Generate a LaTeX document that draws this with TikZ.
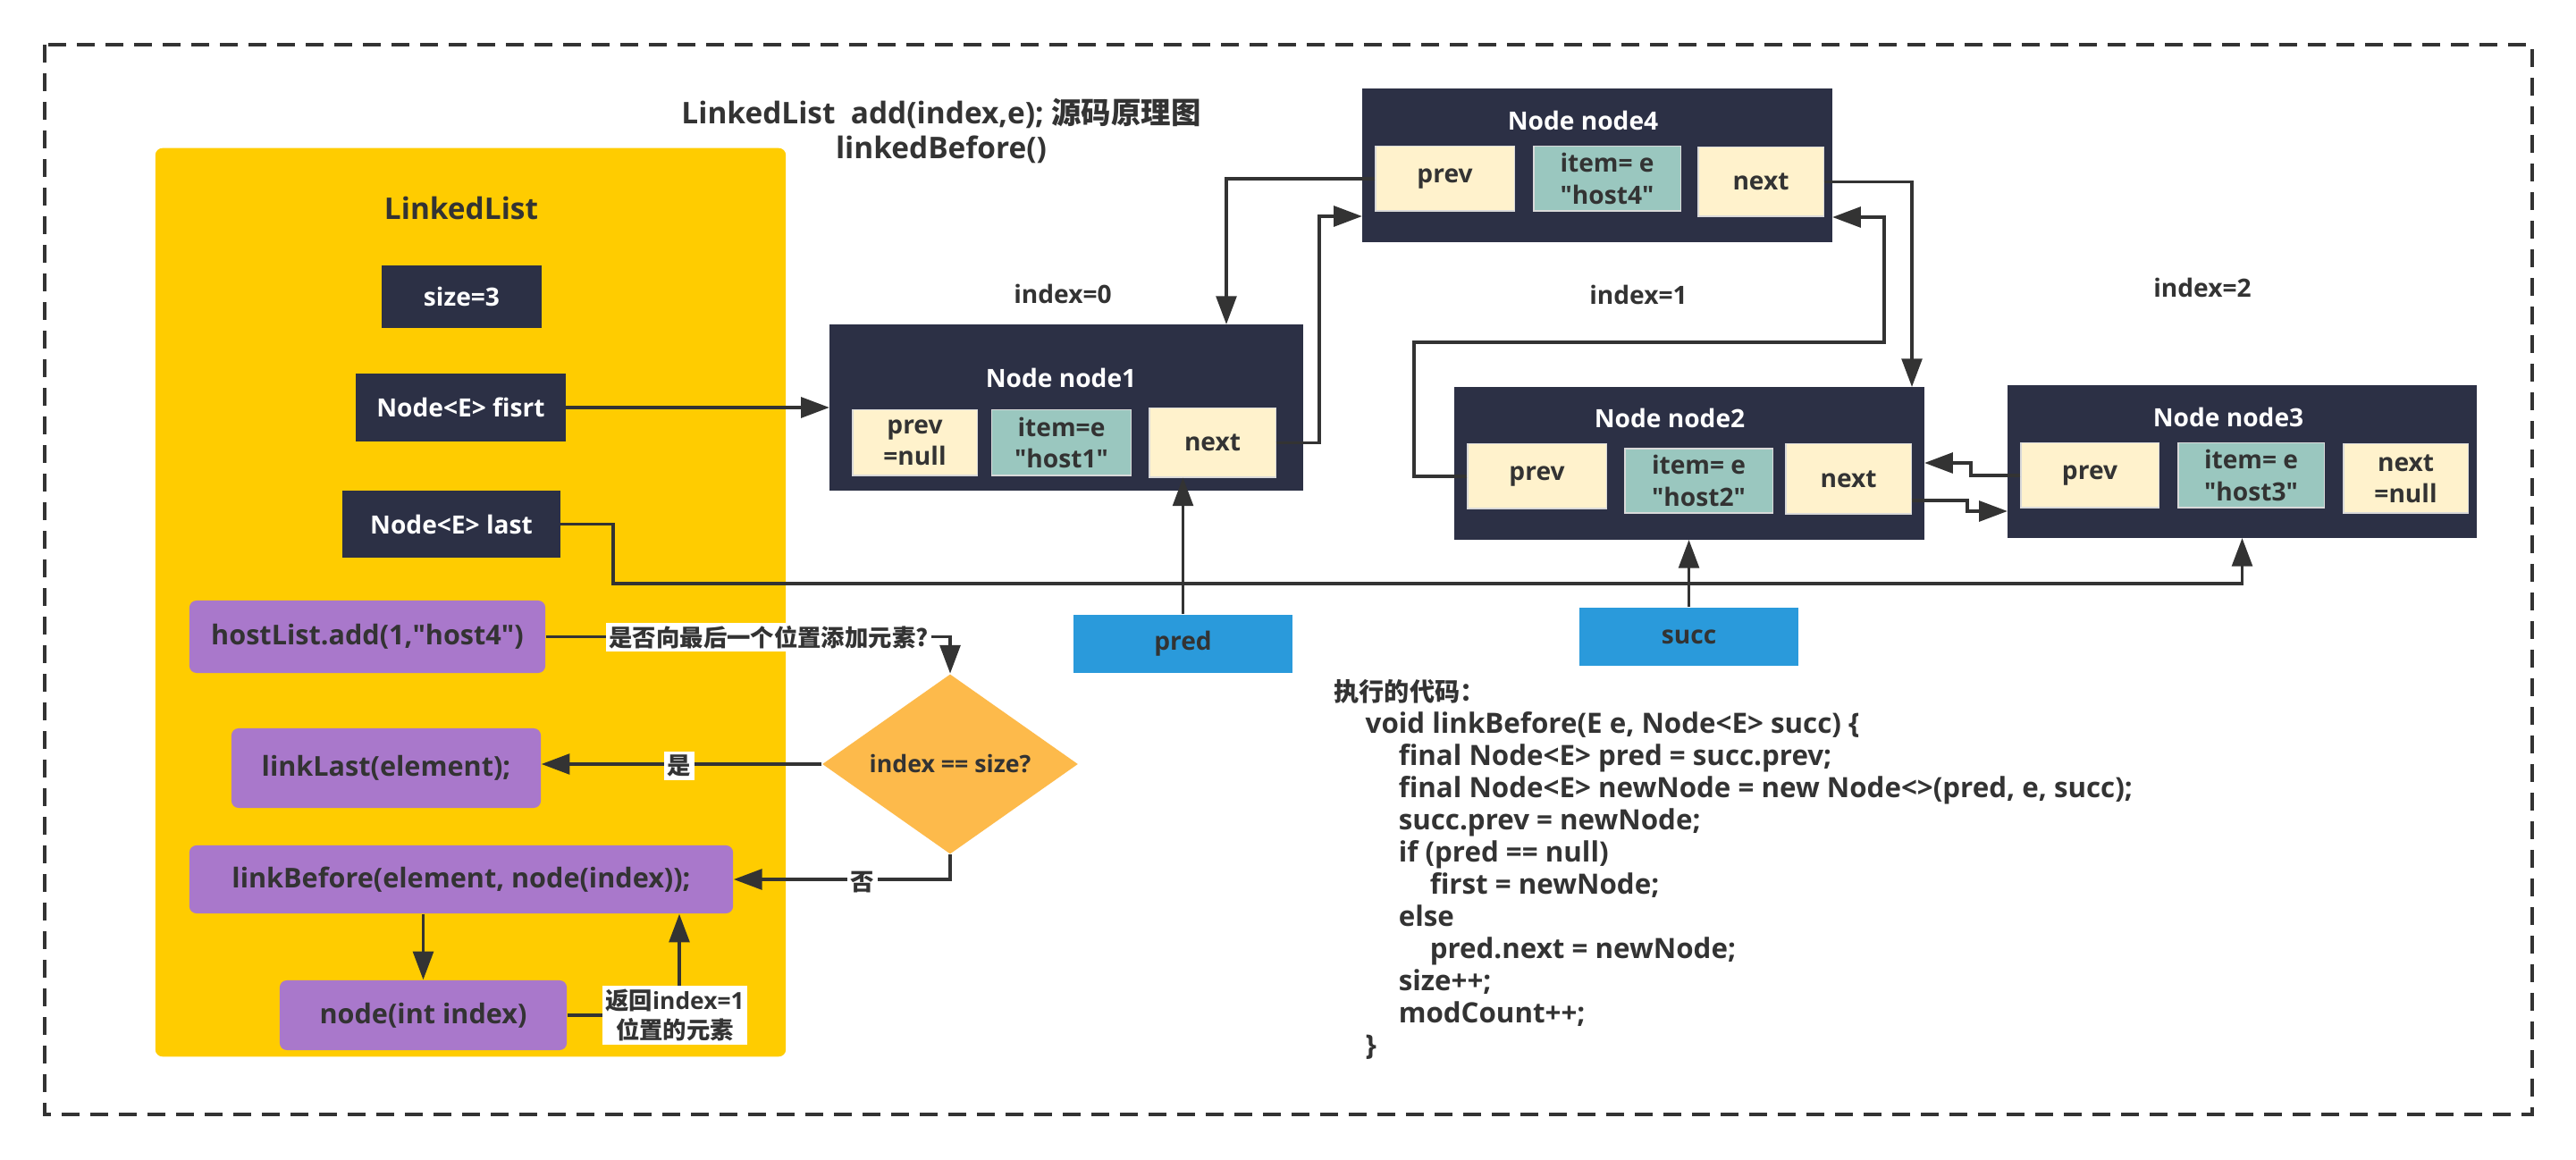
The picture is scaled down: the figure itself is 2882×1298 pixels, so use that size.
\documentclass[tikz,border=0pt]{standalone}
\usepackage{fontspec}
\setmainfont{Open Sans}[Ligatures=TeXOff]
\newfontfamily\cjk{Noto Sans CJK SC}
\usetikzlibrary{arrows.meta,shapes.geometric}
\definecolor{navyc}{HTML}{2C3045}
\definecolor{creamc}{HTML}{FFF2CC}
\definecolor{tealc}{HTML}{9AC7BF}
\definecolor{ybox}{HTML}{FFCC00}
\definecolor{purpc}{HTML}{A978CB}
\definecolor{diac}{HTML}{FDBA4B}
\definecolor{bluec}{HTML}{2A9ADB}
\definecolor{ink}{HTML}{333333}
\newcommand\myfA{\bfseries\fontsize{8}{10}\selectfont}
\newcommand\myfP{\bfseries\fontsize{8.7}{10}\selectfont}
\newcommand\myfD{\bfseries\fontsize{7.6}{10}\selectfont}
\newcommand\myfT{\bfseries\fontsize{9.5}{11.5}\selectfont}
\newcommand\myfL{\bfseries\fontsize{7.5}{9.5}\selectfont}
\newcommand\myfC{\bfseries\fontsize{8.9}{10.24}\selectfont}
\newcommand\dq{\symbol{34}}
\begin{document}
\begin{tikzpicture}[x=0.01cm,y=-0.01cm,
  navybox/.style={fill=navyc, inner sep=0pt, outer sep=0pt, text=white, font=\myfA},
  cellY/.style={fill=creamc, draw=black!15, line width=0.3pt, inner sep=0pt, align=center, text=ink, font=\myfA},
  cellT/.style={fill=tealc, draw=black!15, line width=0.3pt, inner sep=0pt, align=center, text=ink, font=\myfA},
  ttl/.style={text=white, font=\myfA, inner sep=0pt},
  purp/.style={fill=purpc, rounded corners=0.08cm, inner sep=0pt, text=ink, font=\myfP},
  bluebox/.style={fill=bluec, inner sep=0pt, text=ink, font=\myfA},
  plain/.style={text=ink, font=\myfA, inner sep=0pt},
  lbl/.style={fill=white, inner sep=1pt, text=ink, font=\myfL},
  arr/.style={draw=ink, line width=0.9pt, -{Triangle[length=9pt,width=6.5pt]}}]
\useasboundingbox (0,0) rectangle (2882,1298);
\fill[white] (0,0) rectangle (2882,1298);
% outer frame
\draw[ink, line width=1pt, dash pattern=on 5.7pt off 3.4pt] (50,50) rectangle (2833,1247);
% LinkedList panel
\node[fill=ybox, rounded corners=0.08cm, minimum width=7.05cm, minimum height=10.16cm, inner sep=0pt] (panel) at (526.5,674) {};
\node[plain, font=\myfT] (lltitle) at (516,233) {LinkedList};
\node[navybox, minimum width=1.79cm, minimum height=0.70cm] (size) at (516.5,332) {size=3};
\node[navybox, minimum width=2.35cm, minimum height=0.76cm] (first) at (515.5,456) {Node<E> fisrt};
\node[navybox, minimum width=2.44cm, minimum height=0.75cm] (last) at (505,586.5) {Node<E> last};
\node[purp, minimum width=3.98cm, minimum height=0.81cm] (host) at (411,712.5) {hostList.add(1,\dq host4\dq)};
\node[purp, minimum width=3.46cm, minimum height=0.89cm] (ll) at (432,859.5) {linkLast(element);};
\node[purp, minimum width=6.08cm, minimum height=0.76cm] (lb) at (516,984) {linkBefore(element, node(index));};
\node[purp, minimum width=3.21cm, minimum height=0.78cm] (ni) at (473.5,1136) {node(int index)};
\node[diamond, fill=diac, minimum width=2.86cm, minimum height=1.6cm, inner sep=0pt, text=ink, font=\myfD] (dec) at (1063,855) {index == size?};
% titles
\node[plain, font=\myfT] (t1) at (1053,127) {LinkedList\ \ add(index,e); {\cjk 源码原理图}};
\node[plain, font=\myfT] (t2) at (1053,167) {linkedBefore()};
\node[plain] (i0) at (1189,329) {index=0};
\node[plain] (i1) at (1833,330) {index=1};
\node[plain] (i2) at (2464,322) {index=2};
% node1
\node[navybox, minimum width=5.30cm, minimum height=1.86cm] (n1) at (1193,456) {};
\node[ttl] (n1t) at (1187,423) {Node node1};
\node[cellY, minimum width=1.39cm, minimum height=0.73cm] (n1p) at (1023.5,495.5) {prev\\=null};
\node[cellT, minimum width=1.55cm, minimum height=0.73cm] (n1i) at (1187.5,495.5) {item=e\\\dq host1\dq};
\node[cellY, minimum width=1.41cm, minimum height=0.77cm] (n1n) at (1356.5,495.5) {next};
% node4
\node[navybox, minimum width=5.26cm, minimum height=1.72cm] (n4) at (1787,185) {};
\node[ttl] (n4t) at (1771,135) {Node node4};
\node[cellY, minimum width=1.55cm, minimum height=0.72cm] (n4p) at (1616.5,200) {prev};
\node[cellT, minimum width=1.64cm, minimum height=0.72cm] (n4i) at (1798,200) {item= e\\\dq host4\dq};
\node[cellY, minimum width=1.40cm, minimum height=0.77cm] (n4n) at (1970,203.5) {next};
% node2
\node[navybox, minimum width=5.26cm, minimum height=1.71cm] (n2) at (1890,518.5) {};
\node[ttl] (n2t) at (1868,468) {Node node2};
\node[cellY, minimum width=1.55cm, minimum height=0.72cm] (n2p) at (1719.5,533) {prev};
\node[cellT, minimum width=1.65cm, minimum height=0.72cm] (n2i) at (1900.5,538) {item= e\\\dq host2\dq};
\node[cellY, minimum width=1.40cm, minimum height=0.78cm] (n2n) at (2068,536) {next};
% node3
\node[navybox, minimum width=5.25cm, minimum height=1.71cm] (n3) at (2508.5,516.5) {};
\node[ttl] (n3t) at (2493,467) {Node node3};
\node[cellY, minimum width=1.54cm, minimum height=0.72cm] (n3p) at (2338,532) {prev};
\node[cellT, minimum width=1.63cm, minimum height=0.72cm] (n3i) at (2518.5,532) {item= e\\\dq host3\dq};
\node[cellY, minimum width=1.39cm, minimum height=0.77cm] (n3n) at (2691.5,535.5) {next\\=null};
% pred / succ
\node[bluebox, minimum width=2.45cm, minimum height=0.65cm] (pred) at (1323.5,720.5) {pred};
\node[bluebox, minimum width=2.45cm, minimum height=0.65cm] (succ) at (1889.5,712.5) {succ};
% code
\node[anchor=north west, align=left, inner sep=0pt, text=ink, font=\myfC] (code) at (1492,760) {{\cjk\fontsize{8}{10.24}\selectfont 执行的代码：}\\
\hspace*{0.35cm}void linkBefore(E e, Node<E> succ) \{\\
\hspace*{0.72cm}final Node<E> pred = succ.prev;\\
\hspace*{0.72cm}final Node<E> newNode = new Node<>(pred, e, succ);\\
\hspace*{0.72cm}succ.prev = newNode;\\
\hspace*{0.72cm}if (pred == null)\\
\hspace*{1.07cm}first = newNode;\\
\hspace*{0.72cm}else\\
\hspace*{1.07cm}pred.next = newNode;\\
\hspace*{0.72cm}size++;\\
\hspace*{0.72cm}modCount++;\\
\hspace*{0.35cm}\}};
% helper coordinates
\coordinate (x5) at (1372,0);
\coordinate (x6) at (1476,0);
\coordinate (y6) at (0,242);
\coordinate (x7) at (2139,0);
\coordinate (x8a) at (1582,383);
\coordinate (x8b) at (2108,243);
\coordinate (x9) at (2205,518);
\coordinate (y10) at (0,560);
\coordinate (x10) at (2201,572);
\coordinate (x2) at (686,653);
\coordinate (retup) at (760,0);
% connectors
\draw[arr] (first.east) -- (n1.west |- first.east);
\draw[arr] (last.east) -| (x2) -- (x2 -| n3.south) -- (n3.south);
\draw[arr] (pred.north) -- (pred.north |- n1n.south);
\draw[arr] (succ.north) -- (succ.north |- n2.south);
\draw[arr] (n4p.west) -| (x5 |- n1.north);
\draw[arr] (n1n.east) -| (x6 |- y6) -- (n4.west |- y6);
\draw[arr] (n4n.east) -| (x7 |- n2.north);
\draw[arr] (n2p.west) -| (x8a) -| (x8b) -- (n4.east |- x8b);
\draw[arr] (n3p.west) -| (x9) -- (n2.east |- x9);
\draw[arr] (n2n.east |- y10) -| (x10) -- (n3.west |- x10);
\draw[arr] (host.east) -| (dec.north);
\draw[arr] (dec.west) -- (dec.west -| ll.east);
\draw[arr] (dec.south) |- (lb.east);
\draw[arr] (ni.north |- lb.south) -- (ni.north);
\draw[arr] (ni.east) -| (retup |- lb.south);
% labels
\node[lbl] (q) at (860,713) {{\cjk 是否向最后一个位置添加元素?}};
\node[lbl] (yes) at (760,857) {{\cjk 是}};
\node[lbl] (no) at (965,987) {{\cjk 否}};
\node[lbl, align=center] (ret) at (755,1136) {{\cjk 返回}index=1\\{\cjk 位置的元素}};
\end{tikzpicture}
\end{document}
